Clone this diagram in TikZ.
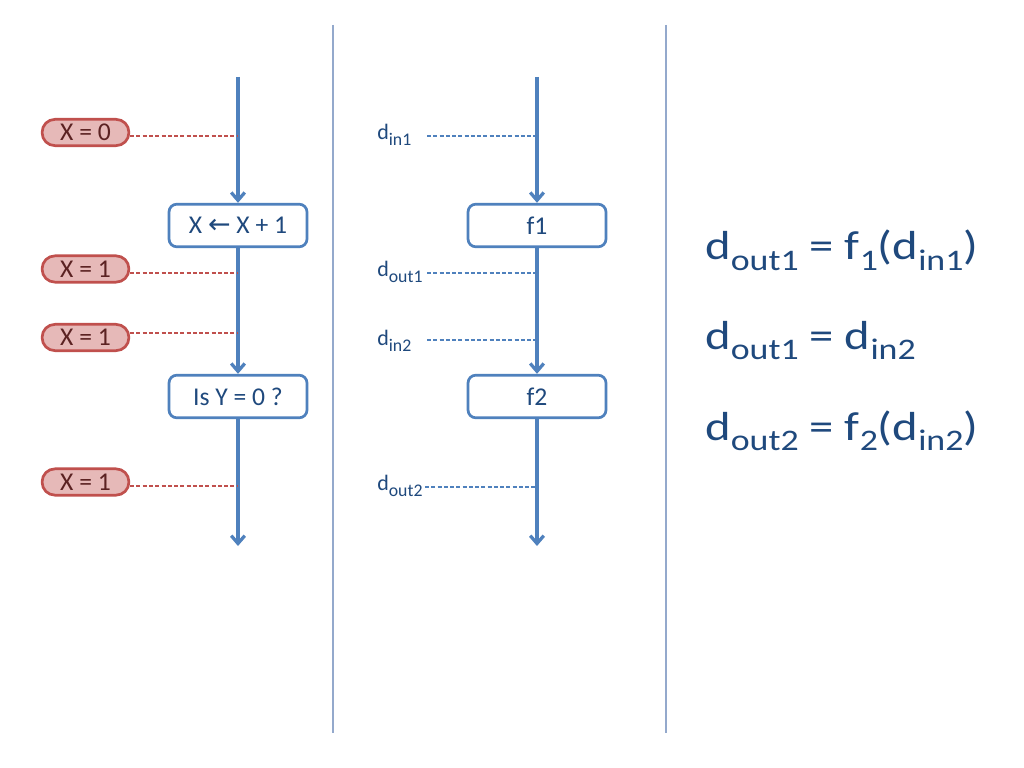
\documentclass[tikz,border=0pt]{standalone}
\usepackage{fontspec}
\setmainfont{Carlito}
\newfontfamily\eqfont{Carlito}[FakeStretch=1.2]
\newfontfamily\arrfont{DejaVu Sans}
\usetikzlibrary{arrows.meta}
\definecolor{accblue}{HTML}{4F81BD}
\definecolor{txtblue}{HTML}{1F497D}
\definecolor{divblue}{HTML}{94A9CC}
\definecolor{pillfill}{HTML}{E6B9B8}
\definecolor{pillline}{HTML}{C0504D}
\definecolor{pilltext}{HTML}{5B2222}
\newcommand\lsub[1]{\raisebox{-4.4pt}{\fontsize{12.5}{14}\selectfont #1}}
\newcommand\esub[1]{\raisebox{-7.2pt}{\fontsize{21}{24}\selectfont #1}}
\tikzset{
  flowbox/.style={draw=accblue, line width=1.9pt, fill=white, rounded corners=5.5pt,
    minimum width=97pt, minimum height=30pt, inner sep=0pt, text=txtblue,
    font=\fontsize{18}{20}\selectfont},
  pill/.style={draw=pillline, line width=1.9pt, fill=pillfill, rounded corners=9pt,
    minimum width=61pt, minimum height=18.5pt, inner sep=0pt, text=pilltext,
    font=\fontsize{18}{20}\selectfont},
  flow/.style={draw=accblue, line width=2.3pt, -{Straight Barb[length=5.5pt,width=9.5pt]}},
  reddash/.style={draw=pillline, line width=0.75pt, dash pattern=on 2.8pt off 1.6pt},
  bluedash/.style={draw=accblue, line width=0.75pt, dash pattern=on 2.8pt off 1.6pt},
  divider/.style={draw=divblue, line width=0.9pt},
  lbl/.style={anchor=base west, inner sep=0pt, text=txtblue, font=\fontsize{15.5}{18}\selectfont},
  eqn/.style={anchor=base west, inner sep=0pt, text=txtblue, font=\eqfont\fontsize{28.5}{32}\selectfont}
}
\begin{document}
\begin{tikzpicture}[x=0.703125pt,y=-0.703125pt]
\useasboundingbox[fill=white] (0,0) rectangle (1024,768);

% dividers
\coordinate (v1t) at (333,25);
\coordinate (v1b) at (333,733);
\coordinate (v2t) at (666,25);
\coordinate (v2b) at (666,733);
\draw[divider] (v1t) -- (v1b);
\draw[divider] (v2t) -- (v2b);

% ---------- left column ----------
\coordinate (ltop) at (238,77);
\coordinate (lbot) at (238,546);
\node[flowbox] (inc) at (238,225.5) {X {\arrfont\fontsize{19}{20}\selectfont ←} X + 1};
\node[flowbox] (test) at (238,396.5) {Is Y = 0 ?};
\draw[flow] (ltop) -- (inc.north);
\draw[flow] (inc.south) -- (test.north);
\draw[flow] (test.south) -- (lbot);

\node[pill] (p1) at (85.5,132.5) {X = 0};
\node[pill] (p2) at (85.5,269) {X = 1};
\node[pill] (p3) at (85.5,337.5) {X = 1};
\node[pill] (p4) at (85.5,482) {X = 1};
\coordinate (la1) at (238,136);
\coordinate (la2) at (238,273);
\coordinate (la3) at (238,333);
\coordinate (la4) at (238,486);
\draw[reddash] (p1.east |- la1) -- (la1);
\draw[reddash] (p2.east |- la2) -- (la2);
\draw[reddash] (p3.east |- la3) -- (la3);
\draw[reddash] (p4.east |- la4) -- (la4);

% ---------- middle column ----------
\coordinate (mtop) at (537,77);
\coordinate (mbot) at (537,546);
\node[flowbox] (f1) at (537,225.5) {f1};
\node[flowbox] (f2) at (537,396.5) {f2};
\draw[flow] (mtop) -- (f1.north);
\draw[flow] (f1.south) -- (f2.north);
\draw[flow] (f2.south) -- (mbot);

\node[lbl] (din1) at (377,139.5) {d\lsub{in1}};
\node[lbl] (dout1) at (377,276.5) {d\lsub{out1}};
\node[lbl] (din2) at (377,345) {d\lsub{in2}};
\node[lbl] (dout2) at (377,490) {d\lsub{out2}};
\coordinate (ma1) at (537,136);
\coordinate (ma2) at (537,273);
\coordinate (ma3) at (537,340);
\coordinate (ma4) at (537,487);
\coordinate (ms1) at (427,136);
\coordinate (ms2) at (427,273);
\coordinate (ms3) at (427,340);
\coordinate (ms4) at (425,487);
\draw[bluedash] (ms1) -- (ma1);
\draw[bluedash] (ms2) -- (ma2);
\draw[bluedash] (ms3) -- (ma3);
\draw[bluedash] (ms4) -- (ma4);

% ---------- equations ----------
\node[eqn] (eq1) at (705,260) {d\esub{out1} = f\esub{1}(d\esub{in1})};
\node[eqn] (eq2) at (705,349) {d\esub{out1} = d\esub{in2}};
\node[eqn] (eq3) at (705,440) {d\esub{out2} = f\esub{2}(d\esub{in2})};
\end{tikzpicture}
\end{document}
